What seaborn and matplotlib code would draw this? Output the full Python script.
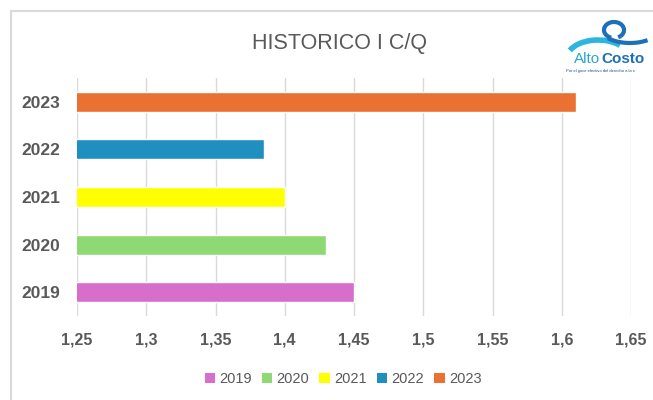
import matplotlib
matplotlib.use('Agg')
import matplotlib.pyplot as plt
from matplotlib.patches import Patch, Rectangle, Arc
from matplotlib.transforms import IdentityTransform
from matplotlib.ticker import FuncFormatter, MultipleLocator
import pandas as pd
import seaborn as sns

# datos
years = ['2019', '2020', '2021', '2022', '2023']
valores = [1.45, 1.43, 1.40, 1.385, 1.61]
colores = ['#D86ECC', '#8ED973', '#FFFF00', '#1F8FC0', '#E97132']
orden = years[::-1]

df = pd.DataFrame({'year': years, 'valor': valores})
paleta = dict(zip(years, colores))

sns.set_style('white')
plt.rcParams['font.family'] = ['Liberation Sans', 'DejaVu Sans']

fig = plt.figure(figsize=(6.53, 4.0), dpi=100)
ax = fig.add_axes([77/653, 1 - 316/400, 554/653, 238/400])

sns.barplot(data=df, x='valor', y='year', hue='year', order=orden,
            palette=paleta, orient='h', width=0.42, saturation=1,
            legend=False, ax=ax)

ax.set_xlim(1.25, 1.65)
ax.xaxis.set_major_locator(MultipleLocator(0.05))
ax.xaxis.set_major_formatter(FuncFormatter(lambda v, p: f'{round(v, 2):g}'.replace('.', ',')))
ax.grid(axis='x', color='#D9D9D9', lw=1)
ax.set_axisbelow(True)
for s in ax.spines.values():
    s.set_visible(False)
ax.tick_params(length=0)
ax.tick_params(axis='x', pad=12, labelsize=11.5, labelcolor='#595959')
ax.tick_params(axis='y', pad=12, labelsize=12.5, labelcolor='#595959')
for t in ax.get_xticklabels() + ax.get_yticklabels():
    t.set_fontweight('bold')
ax.set_xlabel('')
ax.set_ylabel('')

# titulo
fig.text(339/653, 1 - 43/400, 'HISTORICO I C/Q', ha='center', va='center',
         fontsize=15.5, color='#595959')

# leyenda
handles = [Patch(facecolor=c, edgecolor='none', label=y) for y, c in zip(years, colores)]
fig.legend(handles=handles, loc='center', bbox_to_anchor=(343/653, 1 - 379/400),
           ncol=5, frameon=False, fontsize=10.5, labelcolor='#595959',
           handlelength=0.7, handleheight=0.7, handletextpad=0.3, columnspacing=0.7)

# marco exterior
fig.patches.append(Rectangle((11/653, -0.1), 1.2, 1.1 - 11/400, transform=fig.transFigure,
                             fill=False, edgecolor='#D9D9D9', lw=1.5))

# logo aproximado
fig.patches.append(Rectangle((566/653, 1 - 78/400), 0.2, 62/400, transform=fig.transFigure,
                             facecolor='white', edgecolor='none'))
px = IdentityTransform()
fig.patches.append(Arc((598, 400 - 58), 62, 36, theta1=30, theta2=165, lw=4,
                       color='#2BB5E0', transform=px))
fig.patches.append(Arc((614, 400 - 30), 20, 16, theta1=-60, theta2=250, lw=3,
                       color='#1D6FB8', transform=px))
fig.patches.append(Arc((630, 400 - 30), 56, 26, theta1=200, theta2=330, lw=3,
                       color='#1D6FB8', transform=px))
fig.text(600/653, 1 - 59/400, 'Alto', fontsize=11, color='#2AA6D0', ha='right', va='center')
fig.text(601/653, 1 - 59/400, 'Costo', fontsize=11, color='#1D6FB8', ha='left', va='center',
         fontweight='bold')
fig.text(566/653, 1 - 71/400, 'Por el goce efectivo del derecho a la s', fontsize=3,
         color='#1D4F91', ha='left', va='center')

fig.savefig('out.png', dpi=100)
